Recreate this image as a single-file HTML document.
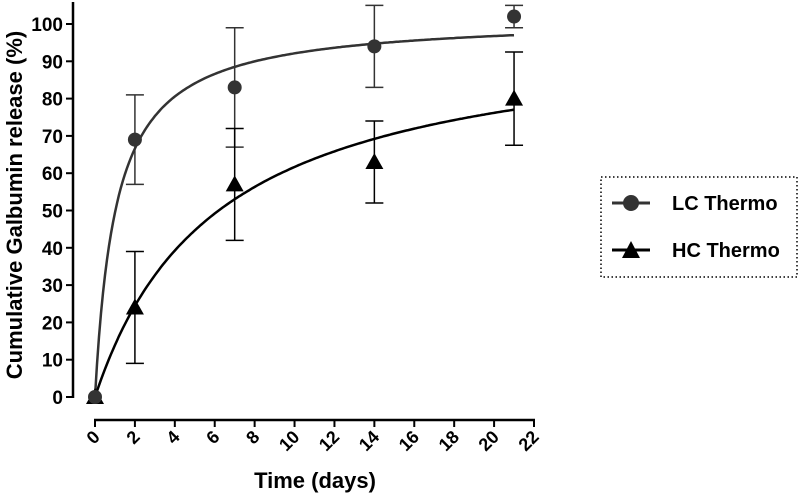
<!DOCTYPE html>
<html><head><meta charset="utf-8"><style>
body{margin:0;background:#fff;}
svg{display:block;font-family:"Liberation Sans",Arial,sans-serif;font-weight:bold;}
</style></head><body>
<svg id="chart" width="800" height="493" viewBox="0 0 800 493"></svg>
<script>
const xTicks=[0,2,4,6,8,10,12,14,16,18,20,22];
const yTicks=[0,10,20,30,40,50,60,70,80,90,100];
const times=[0,2,7,14,21];
const lcValues=[0,69,83,94,102];
const lcErrors=[0,12,16,11,3];
const hcValues=[0,24,57,63,80];
const hcErrors=[0,15,15,11,12.5];
const lcFit=[101.9,1.06];
const hcFit=[99.6,6.15];

const NS="http://www.w3.org/2000/svg";
const svg=document.getElementById('chart');
const X=v=>95+v*(534-95)/22;
const Y=v=>397-v*3.73;
function mk(tag,attrs,parent){const e=document.createElementNS(NS,tag);for(const k in attrs)e.setAttribute(k,attrs[k]);(parent||svg).appendChild(e);return e;}

let e=mk('line',{x1:73,y1:2,x2:73,y2:398,stroke:'#000','stroke-width':2.5});


e=mk('line',{x1:94,y1:420,x2:535,y2:420,stroke:'#000','stroke-width':2.5});


yTicks.forEach(t=>{
  e=mk('line',{x1:66,y1:Y(t),x2:73,y2:Y(t),stroke:'#000','stroke-width':2});
  
  
  e=mk('text',{x:63,y:Y(t)+7,'text-anchor':'end','font-size':19});
  e.textContent=t;
  
  
});
xTicks.forEach(t=>{
  e=mk('line',{x1:X(t),y1:420,x2:X(t),y2:427,stroke:'#000','stroke-width':2});
  
  
  e=mk('text',{x:X(t)+6,y:438,'text-anchor':'end','font-size':18,transform:`rotate(-45 ${X(t)+6} 438)`});
  e.textContent=t;
  
  
});
e=mk('text',{x:315,y:488,'text-anchor':'middle','font-size':22});
e.textContent='Time (days)';


e=mk('text',{x:22,y:205,'text-anchor':'middle','font-size':22,transform:'rotate(-90 22 205)'});
e.textContent='Cumulative Galbumin release (%)';



function curve(fit,color,name){
  let d='';
  for(let i=0;i<=210;i++){const t=i/10;const v=fit[0]*t/(fit[1]+t);d+=(i?'L':'M')+X(t).toFixed(1)+' '+Y(v).toFixed(1);}
  const p=mk('path',{d:d,fill:'none',stroke:color,'stroke-width':2.5});
  
  
}
curve(lcFit,'#333','lc-fit-curve');
curve(hcFit,'#000','hc-fit-curve');

function errs(vals,er,color,name){
  times.forEach((t,i)=>{
    if(!er[i])return;
    const x=X(t),a=Y(vals[i]+er[i]),b=Y(vals[i]-er[i]);
    const g=mk('g',{stroke:color,'stroke-width':1.5});
    
    
    mk('line',{x1:x,y1:a,x2:x,y2:b},g);
    mk('line',{x1:x-9,y1:a,x2:x+9,y2:a},g);
    mk('line',{x1:x-9,y1:b,x2:x+9,y2:b},g);
  });
}
errs(lcValues,lcErrors,'#333','lc-error-bar');
errs(hcValues,hcErrors,'#000','hc-error-bar');

times.forEach((t,i)=>{
  const x=X(t),y=Y(hcValues[i]);
  const p=mk('polygon',{points:`${x},${y-9} ${x-9},${y+7} ${x+9},${y+7}`,fill:'#000'});
  
  
});
times.forEach((t,i)=>{
  const c=mk('circle',{cx:X(t),cy:Y(lcValues[i]),r:7,fill:'#333'});
  
  
});

const lg=mk('g',{});


mk('rect',{x:601,y:177,width:196,height:100,fill:'none',stroke:'#000','stroke-width':1.5,'stroke-dasharray':'1.5 2.5'},lg);
const l1=mk('g',{},lg);


mk('line',{x1:612,y1:203,x2:650,y2:203,stroke:'#333','stroke-width':3},l1);
mk('circle',{cx:631,cy:203,r:8,fill:'#333'},l1);
let tx=mk('text',{x:672,y:210,'font-size':20},l1);tx.textContent='LC Thermo';
const l2=mk('g',{},lg);


mk('line',{x1:612,y1:250,x2:650,y2:250,stroke:'#000','stroke-width':3},l2);
mk('polygon',{points:'631,241 622,258 640,258',fill:'#000'},l2);
tx=mk('text',{x:672,y:257,'font-size':20},l2);tx.textContent='HC Thermo';
</script>
</body></html>
